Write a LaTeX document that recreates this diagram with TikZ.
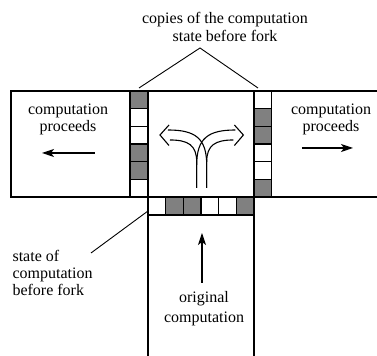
\documentclass[tikz,border=0pt]{standalone}
\usepackage{fontspec}
\setmainfont{Liberation Serif}
\usetikzlibrary{arrows.meta}
\definecolor{cellgray}{RGB}{128,128,128}

\begin{document}
\begin{tikzpicture}[x=0.5pt, y=-0.5pt, line width=0.55pt,
  font=\fontsize{8}{8.5}\selectfont,
  label/.style={align=center, inner sep=0pt},
  cell/.style={draw=black, fill=#1},
  pointer/.style={-{Stealth[length=6pt, width=4pt, inset=1.5pt]}},
  lead/.style={line width=0.45pt}]
  \useasboundingbox (0,0) rectangle (377,356);

  % band of the two forks and column of the original
  \draw (377,91) -- (11,91) -- (11,197) -- (377,197);
  \draw (148,91) -- (148,356);
  \draw (254,91) -- (254,356);
  \draw (148,215) -- (254,215);

  % saved states
  \foreach \f [count=\i from 0] in {cellgray,white,white,cellgray,cellgray,white}
    \draw[cell=\f] (130,91+\i*17.67) rectangle ++(17.67,17.67);
  \foreach \f [count=\i from 0] in {white,cellgray,cellgray,white,white,cellgray}
    \draw[cell=\f] (254,91+\i*17.67) rectangle ++(17.67,17.67);
  \foreach \f [count=\i from 0] in {white,cellgray,cellgray,white,white,cellgray}
    \draw[cell=\f] (148+\i*17.67,197) rectangle ++(17.67,17.67);

  % the fork
  \foreach \s in {1,-1} {
    \begin{scope}[shift={(201.7,0)}, xscale=\s]
      \draw (5,188) -- (5,165) .. controls (5,138) and (-6.7,130) .. (-33.7,130);
      \draw (-5,188) -- (-5,162) .. controls (-5,145) and (-13.7,140) .. (-31.7,140);
      \draw (-32.7,125) -- (-41.7,135) -- (-32.7,145.5);
    \end{scope}
  }

  % labels
  \node[label, font=\fontsize{8}{9}\selectfont] (copies) at (225,26.5) {copies of the computation\\state before fork};
  \coordinate (apex) at (200,48);
  \coordinate (copyL) at (139,88);
  \coordinate (copyR) at (258,88);
  \draw[lead] (copyL) -- (apex) -- (copyR);

  \node[label] (procL) at (68,119.5) {computation\\proceeds};
  \node[label] (procR) at (331,119.5) {computation\\proceeds};
  \coordinate (procLs) at (95,153);
  \coordinate (procLe) at (42,153);
  \coordinate (procRs) at (302,148);
  \coordinate (procRe) at (353,148);
  \draw[pointer] (procLs) -- (procLe);
  \draw[pointer] (procRs) -- (procRe);

  \node[label, align=left, anchor=west] (state) at (12,272.5) {state of\\computation\\before fork};
  \coordinate (stateS) at (91,253);
  \coordinate (stateE) at (148,211);
  \draw[lead] (stateS) -- (stateE);

  \node[label, font=\fontsize{8}{10}\selectfont] (orig) at (204,309) {original\\computation};
  \coordinate (origS) at (202,283);
  \coordinate (origE) at (202,233);
  \draw[pointer] (origS) -- (origE);
\end{tikzpicture}
\end{document}
